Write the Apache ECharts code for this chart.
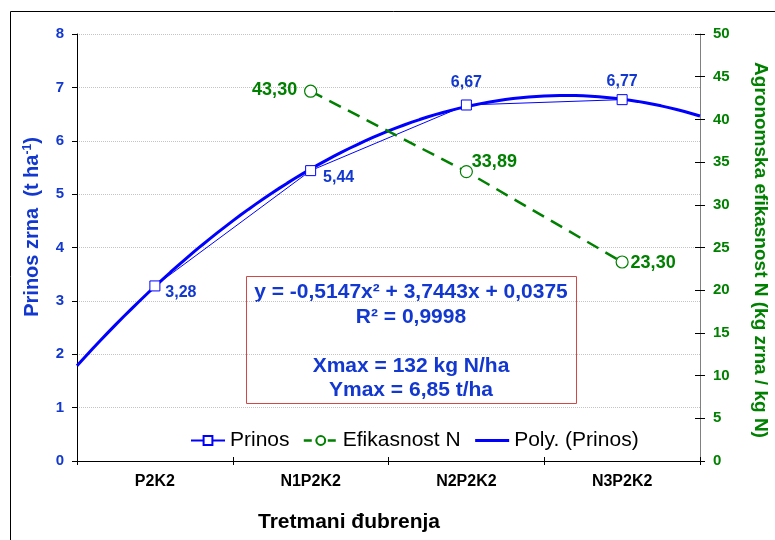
<!DOCTYPE html>
<html lang="sr">
<head>
  <meta charset="UTF-8">
  <title>Prinos zrna</title>
  <style>
    html, body { margin: 0; padding: 0; background: #fff; }
    #main { width: 775px; height: 540px; }
  </style>
</head>
<body>
  <div id="main"></div>
  <script src="https://cdn.jsdelivr.net/npm/echarts@6/dist/echarts.min.js"></script>
  <script>
    // data
    var categories = ['P2K2', 'N1P2K2', 'N2P2K2', 'N3P2K2'];
    var prinos = [3.28, 5.44, 6.67, 6.77];
    var efikasnost = [null, 43.30, 33.89, 23.30];
    var leftTicks = { min: 0, max: 8, interval: 1 };
    var rightTicks = { min: 0, max: 50, interval: 5 };
    var boxLines = ['y = -0,5147x² + 3,7443x + 0,0375', 'R² = 0,9998', '', 'Xmax = 132 kg N/ha', 'Ymax = 6,85 t/ha'];

    // label nudges (px) so the value labels sit where they are in the picture
    var prinosLabelShift = [[26, 25], [28, 25], [0, -4], [0, 0]];
    var efikLabelShift = [[0, 0], [-36, 19], [28, 11], [31, 22]];

    var BLUE_TXT = '#1238d0';
    var BLUE = '#0000ff';
    var GREEN = '#008000';
    var FONT = 'Liberation Sans, Arial, sans-serif';

    // 2nd order least squares fit of prinos (the Excel polynomial trendline)
    function quadFit(ys) {
      var n = ys.length, S = [0, 0, 0, 0, 0], T = [0, 0, 0];
      for (var i = 0; i < n; i++) {
        var x = i + 1;
        for (var k = 0; k < 5; k++) S[k] += Math.pow(x, k);
        for (var k2 = 0; k2 < 3; k2++) T[k2] += ys[i] * Math.pow(x, k2);
      }
      var A = [[S[0], S[1], S[2], T[0]], [S[1], S[2], S[3], T[1]], [S[2], S[3], S[4], T[2]]];
      for (var c = 0; c < 3; c++) {
        for (var r = c + 1; r < 3; r++) {
          var f = A[r][c] / A[c][c];
          for (var j = c; j < 4; j++) A[r][j] -= f * A[c][j];
        }
      }
      var coef = [0, 0, 0];
      for (var r2 = 2; r2 >= 0; r2--) {
        var s = A[r2][3];
        for (var j2 = r2 + 1; j2 < 3; j2++) s -= A[r2][j2] * coef[j2];
        coef[r2] = s / A[r2][r2];
      }
      return coef; // c0 + c1 x + c2 x^2
    }
    var coef = quadFit(prinos);
    var trend = [];
    for (var t = 0; t <= 80; t++) {
      var xv = 0.5 + t * 0.05;
      trend.push([xv, coef[0] + coef[1] * xv + coef[2] * xv * xv]);
    }

    function comma(v) { return v.toFixed(2).replace('.', ','); }

    var chart = echarts.init(document.getElementById('main'));

    var option = {
      animation: false,
      textStyle: { fontFamily: FONT },
      grid: { left: 77, right: 75, top: 34, bottom: 79 },
      legend: {
        left: 185, top: 425,
        itemWidth: 34, itemHeight: 11, itemGap: 13,
        textStyle: { fontSize: 21, color: '#000', fontFamily: FONT },
        data: [
          'Prinos',
          { name: 'Efikasnost N', lineStyle: { width: 2.5, type: [8, 4] } },
          { name: 'Poly. (Prinos)', itemStyle: { opacity: 0 }, lineStyle: { width: 3, color: BLUE } }
        ]
      },
      xAxis: [{
        type: 'category',
        data: categories,
        boundaryGap: true,
        axisLine: { lineStyle: { color: '#000', width: 1 } },
        axisTick: { show: true, length: 4, interval: 0, lineStyle: { color: '#000' } },
        axisLabel: { margin: 13, fontSize: 16, fontWeight: 'bold', color: '#000', fontFamily: FONT },
        splitLine: { show: false }
      }, {
        type: 'value', min: 0.5, max: 4.5, show: false
      }, {
        type: 'category',
        data: categories,
        position: 'bottom',
        boundaryGap: true,
        axisLine: { show: false },
        axisTick: { show: true, inside: true, length: 4, interval: 0, lineStyle: { color: '#000' } },
        axisLabel: { show: false }
      }],
      yAxis: [{
        type: 'value',
        min: leftTicks.min, max: leftTicks.max, interval: leftTicks.interval,
        position: 'left',
        axisLine: { show: true, lineStyle: { color: '#000' } },
        axisTick: { show: true, length: 5, lineStyle: { color: '#000' } },
        axisLabel: { margin: 13, fontSize: 15, fontWeight: 'bold', color: BLUE_TXT, fontFamily: FONT },
        splitLine: { show: true, lineStyle: { color: '#c4c4c4', type: 'dotted' } }
      }, {
        type: 'value',
        min: rightTicks.min, max: rightTicks.max, interval: rightTicks.interval,
        position: 'right',
        axisLine: { show: true, lineStyle: { color: '#808080' } },
        axisTick: { show: true, length: 5, lineStyle: { color: '#000' } },
        axisLabel: { margin: 13, fontSize: 15, fontWeight: 'bold', color: GREEN, fontFamily: FONT },
        splitLine: { show: false }
      }, {
        type: 'value',
        min: rightTicks.min, max: rightTicks.max, interval: rightTicks.interval,
        position: 'right',
        axisLine: { show: false },
        axisTick: { show: true, inside: true, length: 5, lineStyle: { color: '#000' } },
        axisLabel: { show: false },
        splitLine: { show: false }
      }],
      series: [{
        name: 'Poly. (Prinos)',
        type: 'line',
        xAxisIndex: 1, yAxisIndex: 0,
        data: trend,
        showSymbol: false,
        lineStyle: { color: BLUE, width: 3 },
        itemStyle: { color: BLUE },
        z: 3
      }, {
        name: 'Prinos',
        type: 'line',
        xAxisIndex: 0, yAxisIndex: 0,
        data: prinos,
        symbol: 'rect', symbolSize: 10,
        lineStyle: { color: BLUE, width: 1 },
        itemStyle: { color: '#fff', borderColor: BLUE, borderWidth: 1 },
        label: {
          show: true, fontSize: 16, fontWeight: 'bold', color: BLUE_TXT, fontFamily: FONT,
          formatter: function (p) { return comma(p.value); }
        },
        labelLayout: function (p) {
          var d = prinosLabelShift[p.dataIndex];
          return { dx: d[0], dy: d[1] };
        },
        z: 4
      }, {
        name: 'Efikasnost N',
        type: 'line',
        xAxisIndex: 0, yAxisIndex: 1,
        data: efikasnost,
        symbol: 'circle', symbolSize: 12,
        lineStyle: { color: GREEN, width: 2.5, type: [13, 8] },
        itemStyle: { color: '#fff', borderColor: GREEN, borderWidth: 1.2 },
        label: {
          show: true, fontSize: 18, fontWeight: 'bold', color: GREEN, fontFamily: FONT,
          formatter: function (p) { return p.value == null ? '' : comma(p.value); }
        },
        labelLayout: function (p) {
          var d = efikLabelShift[p.dataIndex];
          return { dx: d[0], dy: d[1] };
        },
        z: 5
      }],
      graphic: [{
        type: 'rect', silent: true, z: -1,
        shape: { x: 10.5, y: 11.5, width: 900, height: 700 },
        style: { fill: 'none', stroke: '#000', lineWidth: 1 }
      }, {
        type: 'rect', silent: true,
        shape: { x: 246.5, y: 276.5, width: 330, height: 127 },
        style: { fill: '#fff', stroke: '#d04848', lineWidth: 1 }
      }, {
        type: 'text', silent: true,
        style: {
          x: 411, y: 280, text: boxLines.join('\n'), align: 'center',
          font: 'bold 21px ' + FONT, fill: BLUE_TXT, lineHeight: 24.5
        }
      }, {
        type: 'text', silent: true,
        rotation: Math.PI / 2,
        x: 32, y: 227,
        style: {
          text: '{a|Prinos zrna  (t ha}{s|-1}{a|)}',
          align: 'center', verticalAlign: 'middle',
          rich: {
            a: { fontFamily: FONT, fontWeight: 'bold', fontSize: 20, fill: BLUE_TXT },
            s: { fontFamily: FONT, fontWeight: 'bold', fontSize: 12, fill: BLUE_TXT, verticalAlign: 'top', padding: [0, 0, 9, 0] }
          }
        }
      }, {
        type: 'text', silent: true,
        rotation: -Math.PI / 2,
        x: 760, y: 250,
        style: {
          text: 'Agronomska efikasnost N (kg zrna / kg N)',
          align: 'center', verticalAlign: 'middle',
          font: 'bold 19px ' + FONT, fill: GREEN
        }
      }, {
        type: 'text', silent: true,
        x: 349, y: 522,
        style: {
          text: 'Tretmani đubrenja',
          align: 'center', verticalAlign: 'middle',
          font: 'bold 21px ' + FONT, fill: '#000'
        }
      }]
    };

    chart.setOption(option);
  </script>
</body>
</html>
